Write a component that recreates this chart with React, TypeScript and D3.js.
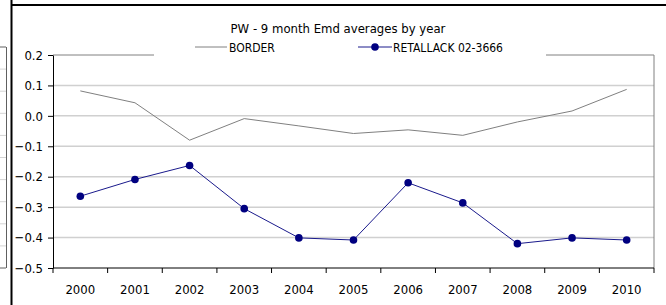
import React, { useEffect, useRef } from "react";
import * as d3 from "d3";

const years = ["2000", "2001", "2002", "2003", "2004", "2005", "2006", "2007", "2008", "2009", "2010"];
const border = [0.082, 0.043, -0.08, -0.009, -0.033, -0.058, -0.046, -0.064, -0.02, 0.016, 0.087];
const retallack = [-0.264, -0.209, -0.163, -0.305, -0.401, -0.408, -0.22, -0.286, -0.42, -0.401, -0.408];
const yTicks = [0.2, 0.1, 0.0, -0.1, -0.2, -0.3, -0.4, -0.5];

const FONT = '"Liberation Sans Narrow", "Arial Narrow", "DejaVu Sans Condensed", sans-serif';

const App = () => {
  const svgRef = useRef<SVGSVGElement>(null);

  useEffect(() => {
    const width = 666;
    const height = 305;
    const plot = { left: 53, right: 654, top: 55, bottom: 268 };

    const svg = d3
      .select(svgRef.current)
      .attr("width", width)
      .attr("height", height)
      .style("font-family", FONT)
      .style("background", "#fff");

    svg.selectAll("*").remove();

    // neighbouring chart, cut off at the left edge
    const side = svg.append("g");
    const sideY = d3.range(0, 11).map((i) => 47 + i * 22.1);
    side
      .selectAll("line")
      .data(sideY)
      .join("line")
      .attr("x1", 0)
      .attr("x2", 6)
      .attr("y1", (d) => d)
      .attr("y2", (d) => d)
      .attr("stroke", (d, i) => (i === 0 || i === 10 ? "#606060" : "#d4d4d4"))
      .attr("stroke-width", 1);
    side
      .append("line")
      .attr("x1", 6.5)
      .attr("x2", 6.5)
      .attr("y1", 47)
      .attr("y2", 268)
      .attr("stroke", "#606060");

    // frame of the sheet
    svg
      .append("line")
      .attr("x1", 11.5)
      .attr("x2", 11.5)
      .attr("y1", 0)
      .attr("y2", height)
      .attr("stroke", "#000")
      .attr("stroke-width", 2);
    svg
      .append("line")
      .attr("x1", 11)
      .attr("x2", width)
      .attr("y1", 5)
      .attr("y2", 5)
      .attr("stroke", "#000")
      .attr("stroke-width", 2);

    const x = d3.scaleBand().domain(years).range([plot.left, plot.right]);
    const y = d3.scaleLinear().domain([-0.5, 0.2]).range([plot.bottom, plot.top]);

    // gridlines
    svg
      .append("g")
      .selectAll("line")
      .data(yTicks.slice(1, -1))
      .join("line")
      .attr("x1", plot.left)
      .attr("x2", plot.right)
      .attr("y1", (d) => y(d))
      .attr("y2", (d) => y(d))
      .attr("stroke", "#d0d0d0")
      .attr("stroke-width", 1.5);

    // plot box (top + right)
    svg
      .append("path")
      .attr("d", `M${plot.left},${y(0.2)}H${plot.right}V${plot.bottom}`)
      .attr("fill", "none")
      .attr("stroke", "#808080");

    // y axis
    const yAxis = svg
      .append("g")
      .attr("transform", `translate(${plot.left},0)`)
      .call(
        d3
          .axisLeft(y)
          .tickValues(yTicks)
          .tickSize(5)
          .tickSizeOuter(0)
          .tickPadding(5)
          .tickFormat(d3.format(".1f"))
      );
    yAxis.select(".domain").attr("stroke", "#000");
    yAxis.selectAll("line").attr("stroke", "#000");
    yAxis
      .selectAll("text")
      .style("font-size", "13px")
      .style("font-family", FONT)
      .attr("fill", "#000");

    // x axis, ticks between categories
    const xAxis = svg.append("g").attr("transform", `translate(0,${plot.bottom})`);
    xAxis
      .append("line")
      .attr("x1", plot.left)
      .attr("x2", plot.right)
      .attr("stroke", "#000");
    xAxis
      .selectAll("line.tick")
      .data([...years.map((d) => x(d) as number), plot.right])
      .join("line")
      .attr("class", "tick")
      .attr("x1", (d) => d)
      .attr("x2", (d) => d)
      .attr("y1", 0)
      .attr("y2", 5)
      .attr("stroke", "#000");
    xAxis
      .selectAll("text")
      .data(years)
      .join("text")
      .attr("x", (d) => (x(d) as number) + x.bandwidth() / 2)
      .attr("y", 26)
      .attr("text-anchor", "middle")
      .style("font-size", "13px")
      .text((d) => d);

    const cx = (i: number) => (x(years[i]) as number) + x.bandwidth() / 2;
    const line = d3
      .line<number>()
      .x((d, i) => cx(i))
      .y((d) => y(d));

    svg
      .append("path")
      .datum(border)
      .attr("d", line)
      .attr("fill", "none")
      .attr("stroke", "#808080")
      .attr("stroke-width", 1);

    svg
      .append("path")
      .datum(retallack)
      .attr("d", line)
      .attr("fill", "none")
      .attr("stroke", "#1a1a8c")
      .attr("stroke-width", 1);

    svg
      .append("g")
      .selectAll("circle")
      .data(retallack)
      .join("circle")
      .attr("cx", (d, i) => cx(i))
      .attr("cy", (d) => y(d))
      .attr("r", 3.8)
      .attr("fill", "#000080");

    // title
    svg
      .append("text")
      .attr("x", 338)
      .attr("y", 33)
      .attr("text-anchor", "middle")
      .style("font-size", "13px")
      .text("PW - 9 month Emd averages by year");

    // legend
    const legend = svg.append("g");
    legend
      .append("rect")
      .attr("x", 154)
      .attr("y", 40)
      .attr("width", 392)
      .attr("height", 17)
      .attr("fill", "#fff");
    legend
      .append("line")
      .attr("x1", 195)
      .attr("x2", 227)
      .attr("y1", 47)
      .attr("y2", 47)
      .attr("stroke", "#808080");
    legend
      .append("text")
      .attr("x", 229)
      .attr("y", 51.5)
      .style("font-size", "12px")
      .text("BORDER");
    legend
      .append("line")
      .attr("x1", 358)
      .attr("x2", 392)
      .attr("y1", 47)
      .attr("y2", 47)
      .attr("stroke", "#1a1a8c");
    legend
      .append("circle")
      .attr("cx", 375)
      .attr("cy", 47)
      .attr("r", 3.8)
      .attr("fill", "#000080");
    legend
      .append("text")
      .attr("x", 393)
      .attr("y", 51.5)
      .style("font-size", "12px")
      .text("RETALLACK 02-3666");
  }, []);

  return (
    <svg
      ref={svgRef}
      style={{ display: "block", position: "absolute", left: 0, top: 0 }}
    ></svg>
  );
};

export default App;
